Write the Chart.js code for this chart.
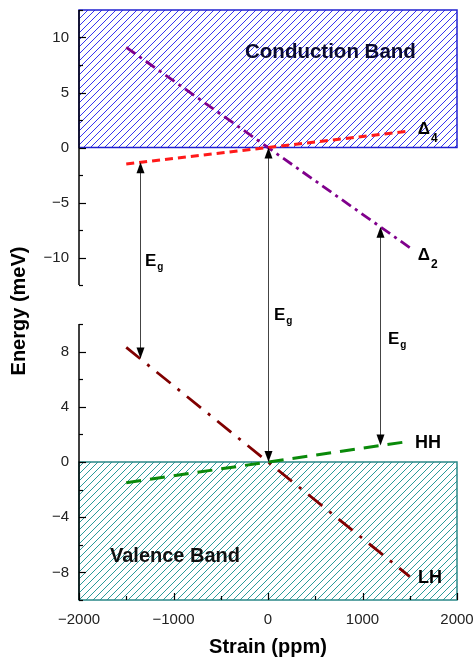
<!DOCTYPE html>
<html lang="en">
<head>
<meta charset="UTF-8">
<title>Band edges vs strain</title>
<script src="https://cdn.jsdelivr.net/npm/chart.js"></script>
<style>
    body { margin: 0; background: #ffffff; }
    .wrap { position: relative; width: 475px; height: 664px; }
    .wrap canvas { position: absolute; left: 0; top: 0; }
</style>
</head>
<body>
<div class="wrap">
    <canvas id="cbChart" width="475" height="664"></canvas>
    <canvas id="vbChart" width="475" height="664"></canvas>
</div>
<script>
const FONT = '"Liberation Sans", Arial, sans-serif';

// strain axis (ppm)
const strainMin = -2000, strainMax = 2000;
const strainTicks = [-2000, -1000, 0, 1000, 2000];
// energy axes (meV)
const cbEnergyRange = [-12.5, 12.5];
const cbEnergyTicks = [-10, -5, 0, 5, 10];
const vbEnergyRange = [-10, 10];
const vbEnergyTicks = [-8, -4, 0, 4, 8];

// band edges vs strain
const strain = [-1500, 0, 1500];
const delta4 = [-1.5, 0, 1.5];
const delta2 = [9.1, 0, -9.1];
const heavyHole = [-1.5, 0, 1.5];
const lightHole = [8.3, 0, -8.3];

// hatched bands (energy limits)
const conductionBand = [0, 12.5];
const valenceBand = [-10, 0];

// E_g arrows: strain, end on conduction edge, end on valence edge
const egStrain = [-1350, 0, 1180];
const egTop = [-1.35, 0, -7.2];
const egBottom = [7.5, 0, 1.2];

const fmt = v => v < 0 ? '\u2212' + Math.abs(v) : String(v);
const pts = ys => strain.map((s, i) => ({ x: s, y: ys[i] }));
const fixTicks = values => s => { s.ticks = values.map(v => ({ value: v })); };

function hatch(ctx, color, size) {
    const c = document.createElement('canvas');
    c.width = c.height = size;
    const g = c.getContext('2d');
    g.strokeStyle = color;
    g.lineWidth = 1;
    g.beginPath();
    g.moveTo(-1, size + 1); g.lineTo(size + 1, -1);
    g.moveTo(-1, 1); g.lineTo(1, -1);
    g.moveTo(size - 1, size + 1); g.lineTo(size + 1, size - 1);
    g.stroke();
    return ctx.createPattern(c, 'repeat');
}

const bandPlugin = {
    id: 'band',
    beforeDatasetsDraw(chart, args, opts) {
        const { ctx, scales: { x, y } } = chart;
        const l = x.getPixelForValue(strainMin), r = x.getPixelForValue(strainMax);
        const t = y.getPixelForValue(opts.range[1]), b = y.getPixelForValue(opts.range[0]);
        ctx.save();
        ctx.fillStyle = hatch(ctx, opts.color, 7);
        ctx.fillRect(l, t, r - l, b - t);
        ctx.strokeStyle = opts.border;
        ctx.lineWidth = 1.5;
        ctx.strokeRect(l, t, r - l, b - t);
        ctx.restore();
    }
};

// inward ticks (major + minor) and the left axis line
const inTicks = {
    id: 'inTicks',
    afterDraw(chart, args, opts) {
        const ctx = chart.ctx;
        ctx.save();
        ctx.strokeStyle = '#000';
        ctx.lineWidth = 1.2;
        for (const id of opts.axes) {
            const s = chart.scales[id];
            const major = s.ticks.map(t => t.value);
            const step = major[1] - major[0];
            const minor = [];
            for (let v = major[0] - step / 2; v <= s.max + 1e-9; v += step) {
                if (v >= s.min - 1e-9) minor.push(v);
            }
            const mark = (v, len) => {
                const p = Math.round(s.getPixelForValue(v)) + 0.5;
                ctx.beginPath();
                if (s.isHorizontal()) { ctx.moveTo(p, s.top); ctx.lineTo(p, s.top - len); }
                else { ctx.moveTo(s.right, p); ctx.lineTo(s.right + len, p); }
                ctx.stroke();
            };
            major.forEach(v => mark(v, 7));
            minor.forEach(v => mark(v, 4));
            if (!s.isHorizontal()) {
                ctx.lineWidth = 1.5;
                ctx.beginPath();
                ctx.moveTo(s.right, s.top);
                ctx.lineTo(s.right, s.bottom);
                ctx.stroke();
                ctx.lineWidth = 1.2;
            }
        }
        ctx.restore();
    }
};

const labelPlugin = {
    id: 'labels',
    afterDatasetsDraw(chart, args, opts) {
        const { ctx, scales: { x, y } } = chart;
        ctx.save();
        ctx.textAlign = 'left';
        ctx.textBaseline = 'alphabetic';
        for (const lb of opts.items) {
            const px = x.getPixelForValue(lb.x), py = y.getPixelForValue(lb.y);
            ctx.fillStyle = lb.color || '#000';
            ctx.font = lb.font;
            ctx.fillText(lb.text, px, py);
            if (lb.sub) {
                const w = ctx.measureText(lb.text).width;
                ctx.font = lb.subFont;
                ctx.fillText(lb.sub, px + w + 1, py + lb.subDy);
            }
        }
        ctx.restore();
    }
};

const eg = { text: 'E', font: 'bold 17px ' + FONT, sub: 'g', subFont: 'bold 10px ' + FONT, subDy: 4 };

const yAxis = (range, values) => ({
    min: range[0], max: range[1],
    afterBuildTicks: fixTicks(values),
    ticks: { padding: 10, color: '#222', font: { family: FONT, size: 15 }, callback: fmt },
    grid: { drawOnChartArea: false, drawTicks: false },
    border: { display: false },
    afterFit: s => { s.width = 79; s.paddingTop = 0; s.paddingBottom = 0; }
});

const topChart = new Chart(document.getElementById('cbChart'), {
    type: 'line',
    data: {
        datasets: [
            { label: 'Δ4', data: pts(delta4), borderColor: '#ff1a1a', borderWidth: 3, borderDash: [8, 5] },
            { label: 'Δ2', data: pts(delta2), borderColor: '#80008c', borderWidth: 2.8, borderDash: [11, 5, 3, 5] }
        ]
    },
    options: {
        responsive: false,
        animation: false,
        layout: { padding: { left: 0, top: 10, right: 18, bottom: 379 } },
        elements: { point: { radius: 0 }, line: { tension: 0 } },
        scales: {
            x: { type: 'linear', display: false, min: strainMin, max: strainMax },
            y: yAxis(cbEnergyRange, cbEnergyTicks)
        },
        plugins: {
            legend: { display: false },
            tooltip: { enabled: false },
            band: { range: conductionBand, color: '#3535f0', border: '#2020d0' },
            inTicks: { axes: ['y'] },
            labels: {
                items: [
                    { text: 'Conduction Band', x: -243, y: 8.15, font: 'bold 20.5px ' + FONT, color: '#0a0a30' },
                    { text: 'Δ', x: 1585, y: 1.27, font: 'bold 17px ' + FONT, sub: '4', subFont: 'bold 12px ' + FONT, subDy: 8 },
                    { text: 'Δ', x: 1585, y: -10.27, font: 'bold 17px ' + FONT, sub: '2', subFont: 'bold 12px ' + FONT, subDy: 8 },
                    { ...eg, x: -1302, y: -10.8 }
                ]
            }
        }
    },
    plugins: [bandPlugin, inTicks, labelPlugin]
});

const egArrows = {
    id: 'egArrows',
    afterDraw(chart) {
        const ctx = chart.ctx, x = chart.scales.x, yb = chart.scales.y, yt = topChart.scales.y;
        ctx.save();
        egStrain.forEach((s, i) => {
            const px = Math.round(x.getPixelForValue(s)) + 0.5;
            const y0 = yt.getPixelForValue(egTop[i]), y1 = yb.getPixelForValue(egBottom[i]);
            ctx.strokeStyle = '#444';
            ctx.lineWidth = 1;
            ctx.beginPath(); ctx.moveTo(px, y0 + 8); ctx.lineTo(px, y1 - 8); ctx.stroke();
            ctx.fillStyle = '#000';
            ctx.beginPath(); ctx.moveTo(px, y0); ctx.lineTo(px - 4, y0 + 11); ctx.lineTo(px + 4, y0 + 11); ctx.closePath(); ctx.fill();
            ctx.beginPath(); ctx.moveTo(px, y1); ctx.lineTo(px - 4, y1 - 11); ctx.lineTo(px + 4, y1 - 11); ctx.closePath(); ctx.fill();
        });
        // axis titles
        ctx.fillStyle = '#000';
        ctx.font = 'bold 20px ' + FONT;
        ctx.textAlign = 'center';
        ctx.textBaseline = 'middle';
        ctx.fillText('Strain (ppm)', (x.left + x.right) / 2, x.bottom - 17);
        ctx.translate(19, (topChart.chartArea.top + chart.chartArea.bottom) / 2 + 6);
        ctx.rotate(-Math.PI / 2);
        ctx.fillText('Energy (meV)', 0, 0);
        ctx.restore();
    }
};

new Chart(document.getElementById('vbChart'), {
    type: 'line',
    data: {
        datasets: [
            { label: 'HH', data: pts(heavyHole), borderColor: '#0a8a0a', borderWidth: 3, borderDash: [15, 9] },
            { label: 'LH', data: pts(lightHole), borderColor: '#800000', borderWidth: 2.8, borderDash: [18, 9, 3, 9] }
        ]
    },
    options: {
        responsive: false,
        animation: false,
        layout: { padding: { left: 0, top: 324, right: 18, bottom: 0 } },
        elements: { point: { radius: 0 }, line: { tension: 0 } },
        scales: {
            x: {
                type: 'linear', min: strainMin, max: strainMax,
                afterBuildTicks: fixTicks(strainTicks),
                ticks: { padding: 11, maxRotation: 0, color: '#222',
                         font: { family: FONT, size: 15 }, callback: fmt },
                grid: { drawOnChartArea: false, drawTicks: false },
                border: { display: false },
                afterFit: s => { s.height = 64; s.paddingLeft = 0; s.paddingRight = 0; }
            },
            y: yAxis(vbEnergyRange, vbEnergyTicks)
        },
        plugins: {
            legend: { display: false },
            tooltip: { enabled: false },
            band: { range: valenceBand, color: '#2a9a9a', border: '#2a8888' },
            inTicks: { axes: ['x', 'y'] },
            labels: {
                items: [
                    { text: 'Valence Band', x: -1672, y: -7.28, font: 'bold 20px ' + FONT, color: '#101010' },
                    { text: 'HH', x: 1555, y: 1.02, font: 'bold 18px ' + FONT },
                    { text: 'LH', x: 1587, y: -8.8, font: 'bold 18px ' + FONT },
                    { ...eg, x: 63, y: 10.27 },
                    { ...eg, x: 1270, y: 8.52 }
                ]
            }
        }
    },
    plugins: [bandPlugin, inTicks, labelPlugin, egArrows]
});
</script>
</body>
</html>
